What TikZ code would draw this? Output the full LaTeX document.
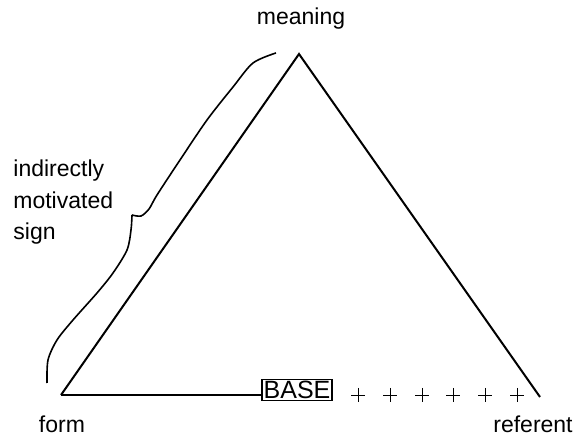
\documentclass[tikz,border=0pt]{standalone}
\usepackage{fontspec}
\setmainfont{Liberation Sans}
\usepackage{tikz}

\tikzset{
  lbl/.style={inner sep=0pt,font=\fontsize{11.5}{15.75}\selectfont},
  basebox/.style={draw,line width=0.9pt,inner sep=0.8pt,minimum width=34pt,minimum height=10.5pt,font=\fontsize{12.5}{13}\selectfont},
  side/.style={line width=1pt},
  cross/.style={line width=0.5pt},
}

\begin{document}
\begin{tikzpicture}[x={(0.5pt,0)},y={(0,-0.5pt)}]
    \useasboundingbox (0,0) rectangle (577,437);

    % Corners
    \coordinate (F) at (61,395);
    \coordinate (M) at (299,54);
    \coordinate (R) at (540,397);

    % Labels
    \node[lbl,anchor=base] (meaning) at (301,25) {meaning};
    \node[lbl,anchor=base] (form) at (62,432) {form};
    \node[lbl,anchor=base] (referent) at (533,432) {referent};
    \node[lbl,anchor=base west,align=left] (sign) at (13,240) {indirectly\\motivated\\sign};

    % Base
    \node[basebox] (base) at (297,390) {BASE};

    % Triangle
    \draw[side] (F) -- (M) -- (R);
    \draw[side] (F) -- (F -| base.west);

    % Crosses
    \foreach \x in {358,390,422,453,485,517}
        \draw[cross] (\x-7,395) -- (\x+7,395) (\x,388) -- (\x,402);

    % Brace
    \draw[line width=0.8pt] plot[smooth] coordinates {(47,383) (48,360) (57,340) (73,320) (97,293) (113,273) (127,250) (131,230) (132,215)};
    \draw[line width=0.8pt] plot[smooth] coordinates {(132,215) (141,216) (149,209) (157,195) (180,160) (207,120) (233,87) (253,63) (276,53)};
\end{tikzpicture}
\end{document}
